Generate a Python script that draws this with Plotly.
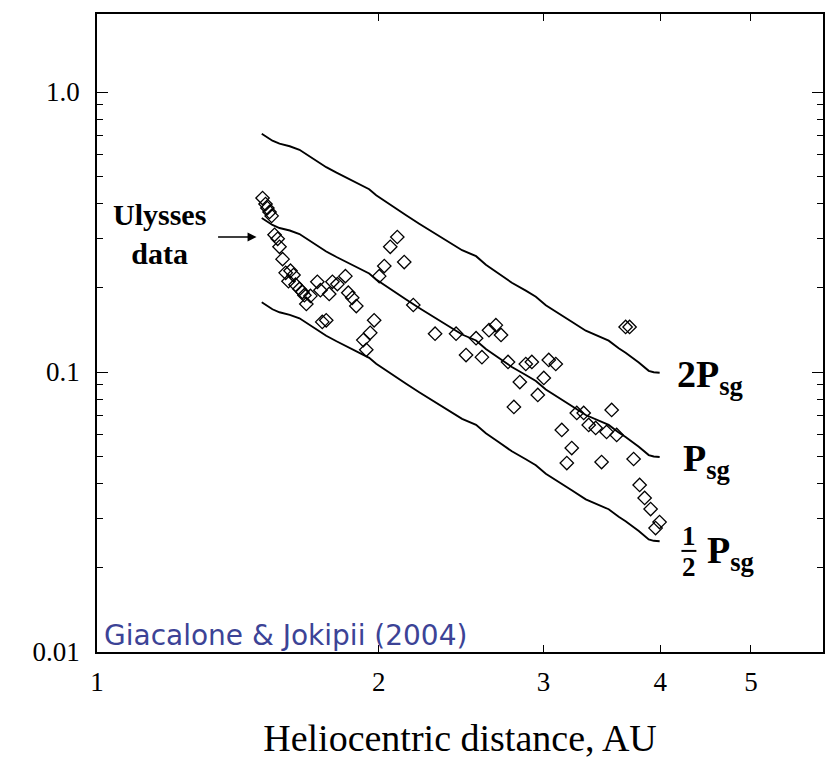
import math
import plotly.graph_objects as go

# Ulysses data: heliocentric distance (AU) and value
r_obs = [1.503, 1.514, 1.521, 1.529, 1.537, 1.548, 1.560, 1.567, 1.579, 1.591,
         1.610, 1.622, 1.602, 1.630, 1.646, 1.658, 1.666, 1.674, 1.691, 1.720,
         1.733, 1.771, 1.785, 1.807, 1.843, 1.856, 1.874, 1.893, 1.741, 1.758,
         1.978, 1.959, 1.926, 1.940, 2.003, 2.028, 2.058, 2.094, 2.130, 2.178,
         2.298, 2.420, 2.542, 2.624, 2.669, 2.703, 2.480, 2.579, 2.750, 2.873,
         2.916, 3.040, 3.093, 2.831, 3.003, 2.959, 2.790, 3.673, 3.709, 3.257,
         3.313, 3.549, 3.354, 3.412, 3.505, 3.593, 3.139, 3.217, 3.178, 3.462,
         3.746, 3.802, 3.849, 3.906, 3.993, 3.954]
p_obs = [0.418, 0.398, 0.385, 0.373, 0.361, 0.309, 0.299, 0.280, 0.253, 0.226,
         0.230, 0.222, 0.211, 0.205, 0.198, 0.193, 0.188, 0.175, 0.187, 0.210,
         0.196, 0.190, 0.210, 0.206, 0.220, 0.192, 0.184, 0.172, 0.151, 0.153,
         0.153, 0.138, 0.130, 0.120, 0.220, 0.239, 0.280, 0.3035, 0.247, 0.1735,
         0.137, 0.137, 0.132, 0.141, 0.147, 0.1356, 0.115, 0.113, 0.1086, 0.1068,
         0.1086, 0.1104, 0.1068, 0.0921, 0.0952, 0.0828, 0.0750, 0.1448, 0.1448, 0.0714,
         0.0714, 0.0732, 0.0647, 0.0631, 0.0611, 0.0596, 0.0621, 0.0535, 0.0473, 0.0477,
         0.0489, 0.0395, 0.0355, 0.0324, 0.0291, 0.0277]

# Model curve P_sg
r_model = [1.500, 1.540, 1.567, 1.607, 1.646, 1.674, 1.716, 1.758, 1.803, 1.861,
           1.907, 1.954, 1.988, 2.038, 2.088, 2.140, 2.210, 2.265, 2.321, 2.379,
           2.456, 2.542, 2.604, 2.689, 2.776, 2.873, 2.945, 3.018, 3.116, 3.217,
           3.330, 3.421, 3.523, 3.611, 3.673, 3.794, 3.888, 3.936, 3.994]
p_sg = [0.3548, 0.3350, 0.3268, 0.3201, 0.3110, 0.2997, 0.2842, 0.2694, 0.2575, 0.2441,
        0.2343, 0.2248, 0.2140, 0.2020, 0.1915, 0.1815, 0.1693, 0.1611, 0.1534, 0.1454,
        0.1361, 0.1296, 0.1208, 0.1122, 0.1042, 0.0976, 0.0929, 0.0866, 0.0811, 0.0756,
        0.0702, 0.0677, 0.0647, 0.0608, 0.0586, 0.0541, 0.0505, 0.0499, 0.0497]
curve_factors = [2.0, 1.0, 0.5]

x_ticks = [1, 2, 3, 4, 5]
y_ticks = [0.01, 0.1, 1.0]
y_ticktext = ["0.01", "0.1", "1.0"]
y_minor = [0.02, 0.03, 0.04, 0.05, 0.06, 0.07, 0.08, 0.09,
           0.2, 0.3, 0.4, 0.5, 0.6, 0.7, 0.8, 0.9, 2.0]

SERIF = "Liberation Serif, Times New Roman, serif"

fig = go.Figure()
for f in curve_factors:
    fig.add_trace(go.Scatter(x=r_model, y=[f * v for v in p_sg], mode="lines",
                             line=dict(color="black", width=1.9), showlegend=False,
                             hoverinfo="skip"))
fig.add_trace(go.Scatter(x=r_obs, y=p_obs, mode="markers", showlegend=False,
                         marker=dict(symbol="diamond-open", size=10.3, color="black",
                                     line=dict(width=1.3, color="black"))))

L = math.log10
ann = []
# Ulysses data label + arrow
ann.append(dict(x=L(1.167), y=L(0.311), xref="x", yref="y", showarrow=False,
                text="<b>Ulysses</b><br><b>data</b>", align="center",
                font=dict(family=SERIF, size=30, color="black")))
ann.append(dict(x=L(1.481), y=L(0.3035), xref="x", yref="y", ax=-40, ay=0,
                showarrow=True, arrowhead=2, arrowsize=1.2, arrowwidth=1.5,
                arrowcolor="black", text=""))
# curve labels
ann.append(dict(x=L(4.15), y=-1.019, xref="x", yref="y", xanchor="left", yanchor="middle",
                showarrow=False, text="<b>2P<sub>sg</sub></b>",
                font=dict(family=SERIF, size=38, color="black")))
ann.append(dict(x=L(4.21), y=-1.319, xref="x", yref="y", xanchor="left", yanchor="middle",
                showarrow=False, text="<b>P<sub>sg</sub></b>",
                font=dict(family=SERIF, size=38, color="black")))
ann.append(dict(x=L(4.47), y=-1.648, xref="x", yref="y", xanchor="left", yanchor="middle",
                showarrow=False, text="<b>P<sub>sg</sub></b>",
                font=dict(family=SERIF, size=38, color="black")))
ann.append(dict(x=L(4.29), y=-1.585, xref="x", yref="y", xanchor="center", yanchor="middle",
                showarrow=False, text="<b>1</b>",
                font=dict(family=SERIF, size=27, color="black")))
ann.append(dict(x=L(4.29), y=-1.697, xref="x", yref="y", xanchor="center", yanchor="middle",
                showarrow=False, text="<b>2</b>",
                font=dict(family=SERIF, size=27, color="black")))
# citation
ann.append(dict(x=L(1.013), y=-1.94, xref="x", yref="y", xanchor="left", yanchor="middle",
                showarrow=False, text="Giacalone &amp; Jokipii (2004)",
                font=dict(family="DejaVu Sans, Verdana, sans-serif", size=28, color="#3c4396")))

# fraction bar of the 1/2 P_sg label (shape coordinates are data values on log axes)
shapes = [dict(type="line", xref="x", yref="y", x0=4.214, x1=4.372,
               y0=10 ** -1.639, y1=10 ** -1.639, line=dict(color="black", width=2))]

fig.update_layout(
    width=828, height=760,
    margin=dict(l=97, r=3, t=14, b=108),
    paper_bgcolor="white", plot_bgcolor="white",
    annotations=ann, shapes=shapes,
    xaxis=dict(type="log", range=[0, 0.776], tickvals=x_ticks,
               ticktext=[str(v) for v in x_ticks],
               ticks="inside", ticklen=7, tickwidth=1.2, tickcolor="black",
               showline=True, linecolor="black", linewidth=1.7, mirror="ticks",
               showgrid=False, zeroline=False, ticklabelstandoff=5,
               tickfont=dict(family=SERIF, size=27, color="black"),
               title=dict(text="Heliocentric distance, AU", standoff=28,
                          font=dict(family=SERIF, size=38, color="black"))),
    yaxis=dict(type="log", range=[-2, 0.2786], tickvals=y_ticks, ticktext=y_ticktext,
               ticks="inside", ticklen=11, tickwidth=1.2, tickcolor="black",
               minor=dict(tickvals=y_minor, ticks="inside", ticklen=6, tickwidth=1.2,
                          tickcolor="black", showgrid=False),
               showline=True, linecolor="black", linewidth=1.7, mirror="ticks",
               showgrid=False, zeroline=False, ticklabelstandoff=10,
               tickfont=dict(family=SERIF, size=27, color="black")),
)

fig.write_html("out.html")
